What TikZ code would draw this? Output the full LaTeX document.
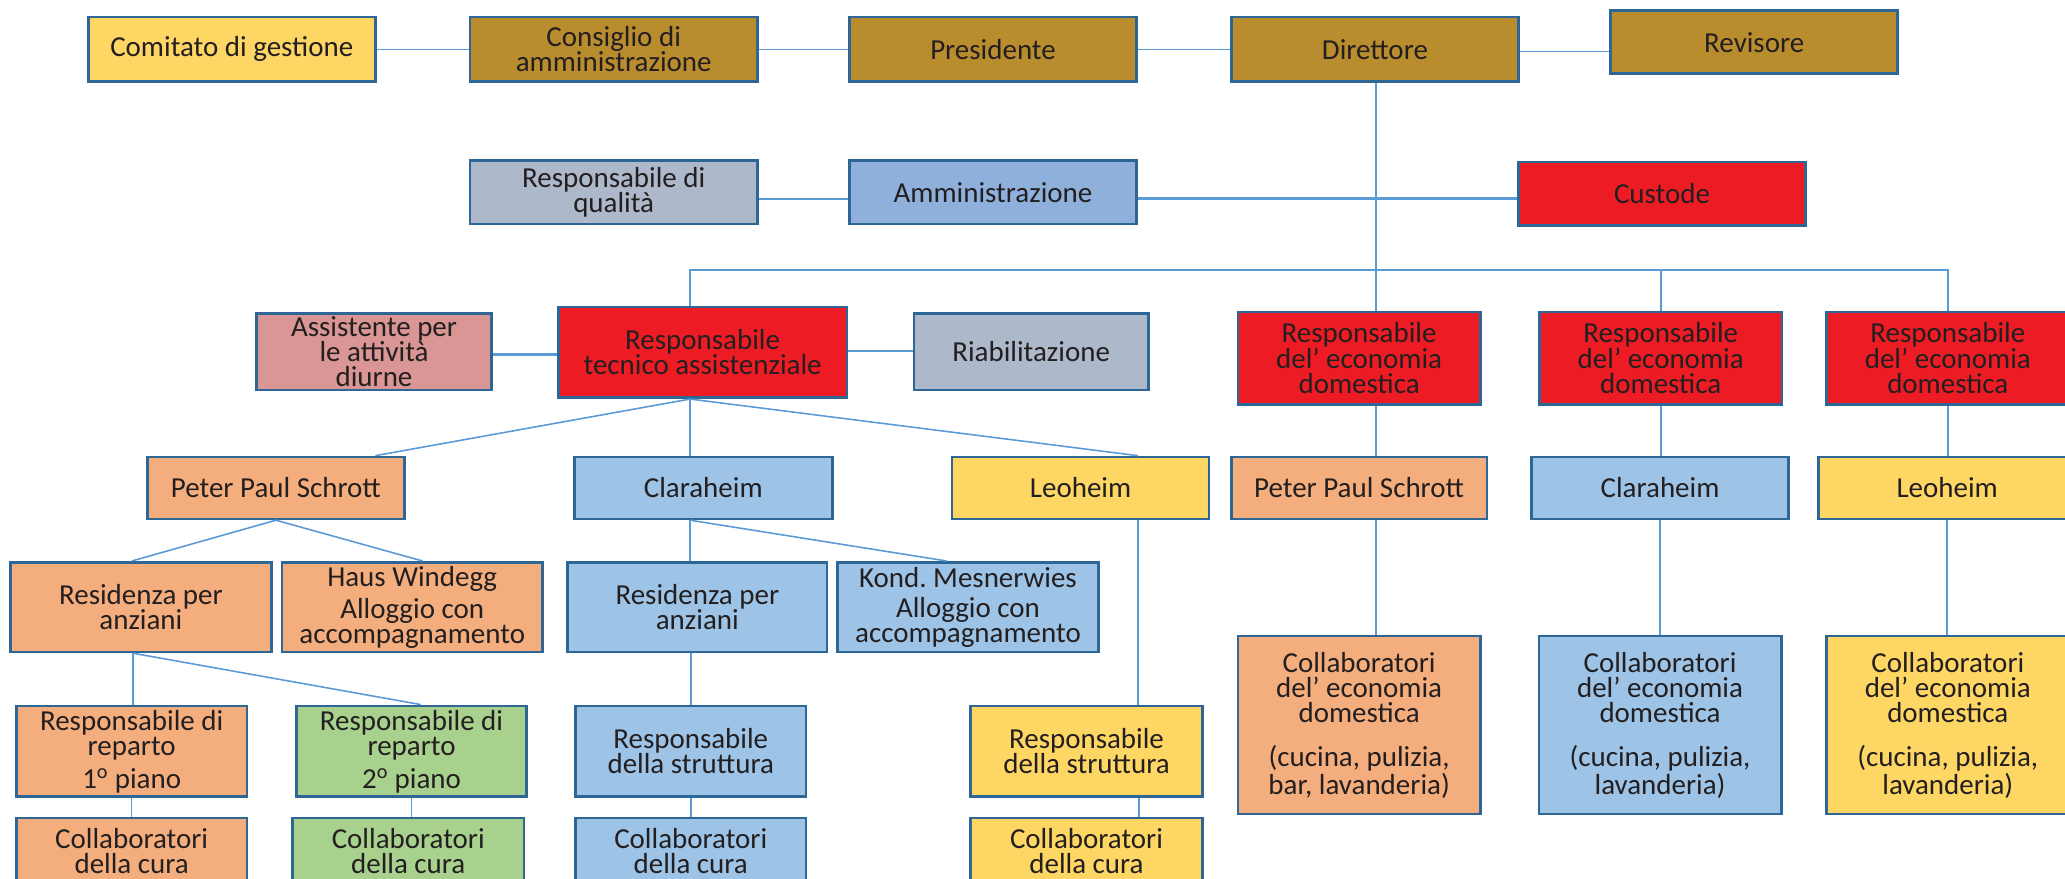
\documentclass[tikz,border=0pt]{standalone}
\usepackage{fontspec}
\setmainfont{Carlito}
\frenchspacing
\definecolor{gold}{HTML}{B98C2E}
\definecolor{yel}{HTML}{FDD663}
\definecolor{ora}{HTML}{F4AE7D}
\definecolor{lblue}{HTML}{9DC3E6}
\definecolor{ablue}{HTML}{8EB0DB}
\definecolor{grey}{HTML}{ADB8CA}
\definecolor{red}{HTML}{ED1C24}
\definecolor{pink}{HTML}{D99694}
\definecolor{green}{HTML}{A9D18E}
\definecolor{bordc}{HTML}{2E6796}
\definecolor{linec}{HTML}{5B9BD5}
\definecolor{txt}{HTML}{231F20}
\begin{document}
\begin{tikzpicture}[x=1pt,y=-1pt,
  box/.style={draw=bordc, line width=2pt, inner sep=0pt, align=center, text=txt,
    font=\fontsize{22}{19}\selectfont},
  sz/.style 2 args={minimum width=#1pt, minimum height=#2pt},
  conn/.style={draw=linec, line width=1.2pt},
  connthick/.style={draw=linec, line width=2.2pt}]
\useasboundingbox (0,0) rectangle (1568,667);

% Row 1
\node[box, fill=yel, sz={218}{49}] (com) at (176,37.5) {Comitato di gestione};
\node[box, fill=gold, sz={218}{49}] (cda) at (466,37.5) {Consiglio di\\amministrazione};
\node[box, fill=gold, sz={218}{49}] (pres) at (754,37.5) {Presidente};
\node[box, fill=gold, sz={218}{49}] (dir) at (1044,37.5) {Direttore};
\node[box, fill=gold, sz={218}{48}] (rev) at (1332,32) {Revisore};

% Row 2
\node[box, fill=grey, sz={218}{48}] (rq) at (466,146) {Responsabile di\\qualità};
\node[box, fill=ablue, sz={218}{48}] (amm) at (754,146) {Amministrazione};
\node[box, fill=red, sz={218}{48}] (cust) at (1262,147) {Custode};

% Row 3
\node[box, fill=pink, sz={178}{58}] (ass) at (284,267) {Assistente per\\le attività\\diurne};
\node[box, fill=red, sz={219}{69}] (rta) at (533.5,267.5) {Responsabile\\tecnico assistenziale};
\node[box, fill=grey, sz={178}{58}] (ria) at (783,267) {Riabilitazione};
\node[box, fill=red, sz={184}{70}] (red1) at (1032,272) {Responsabile\\del’ economia\\domestica};
\node[box, fill=red, sz={184}{70}] (red2) at (1261,272) {Responsabile\\del’ economia\\domestica};
\node[box, fill=red, sz={184}{70}] (red3) at (1479,272) {Responsabile\\del’ economia\\domestica};

% Row 4
\node[box, fill=ora, sz={195}{47}] (pps1) at (209.5,370.5) {Peter Paul Schrott};
\node[box, fill=lblue, sz={196}{47}] (cla1) at (534,370.5) {Claraheim};
\node[box, fill=yel, sz={195}{47}] (leo1) at (820.5,370.5) {Leoheim};
\node[box, fill=ora, sz={194}{47}] (pps2) at (1032,370.5) {Peter Paul Schrott};
\node[box, fill=lblue, sz={195}{47}] (cla2) at (1260.5,370.5) {Claraheim};
\node[box, fill=yel, sz={195}{47}] (leo2) at (1478.5,370.5) {Leoheim};

% Row 5
\node[box, fill=ora, sz={198}{68}] (res1) at (107,461) {Residenza per\\anziani};
\node[box, fill=ora, sz={198}{68}] (hw) at (313,461) {Haus Windegg\\[4pt]Alloggio con\\accompagnamento};
\node[box, fill=lblue, sz={197}{68}] (res2) at (529.5,461) {Residenza per\\anziani};
\node[box, fill=lblue, sz={198}{68}] (km) at (735,461) {Kond. Mesnerwies\\[4pt]Alloggio con\\accompagnamento};

% Row 6
\node[box, fill=ora, sz={175}{69}] (rr1) at (100,570.5) {Responsabile di\\reparto\\[6pt]1\textsuperscript{o} piano};
\node[box, fill=green, sz={175}{69}] (rr2) at (312.5,570.5) {Responsabile di\\reparto\\[6pt]2\textsuperscript{o} piano};
\node[box, fill=lblue, sz={175}{69}] (rs1) at (524.5,570.5) {Responsabile\\della struttura};
\node[box, fill=yel, sz={176}{69}] (rs2) at (825,570.5) {Responsabile\\della struttura};

% Row 7
\node[box, fill=ora, sz={175}{50}] (cc1) at (100,646) {Collaboratori\\della cura};
\node[box, fill=green, sz={176}{50}] (cc2) at (310,646) {Collaboratori\\della cura};
\node[box, fill=lblue, sz={175}{50}] (cc3) at (524.5,646) {Collaboratori\\della cura};
\node[box, fill=yel, sz={176}{50}] (cc4) at (825,646) {Collaboratori\\della cura};

% Right collaboratori
\node[box, fill=ora, sz={184}{135}] (ce1) at (1032,550.5) {Collaboratori\\del’ economia\\domestica\\[15pt](cucina, pulizia,\\bar, lavanderia)};
\node[box, fill=lblue, sz={184}{135}] (ce2) at (1260.5,550.5) {Collaboratori\\del’ economia\\domestica\\[15pt](cucina, pulizia,\\lavanderia)};
\node[box, fill=yel, sz={184}{135}] (ce3) at (1479,550.5) {Collaboratori\\del’ economia\\domestica\\[15pt](cucina, pulizia,\\lavanderia)};

\coordinate (busL) at (524,205);

% Connectors
\draw[conn] (com.east) -- (cda.west);
\draw[conn] (cda.east) -- (pres.west);
\draw[conn] (pres.east) -- (dir.west);
\draw[conn] ([yshift=-1.5pt]dir.east) -- ([yshift=-1.5pt]dir.east -| rev.west);
\draw[conn] ([yshift=-5pt]rq.east) -- ([yshift=-5pt]amm.west);
\draw[connthick] ([yshift=-5pt]amm.east) -- ([yshift=-4pt]cust.west);
\draw[conn] ([xshift=1pt]dir.south) -- ([xshift=1pt]dir.south |- red1.north);
\draw[conn] ([xshift=-9.5pt]rta.north) -- (busL) -- (busL -| red3.north) -- (red3.north);
\draw[conn] (red2.north) -- (red2.north |- busL);
\draw[connthick] ([yshift=-2pt]ass.east) -- ([yshift=-2pt]ass.east -| rta.west);
\draw[connthick] ([yshift=1pt]rta.east) -- ([yshift=1pt]rta.east -| ria.west);

\draw[conn] ([xshift=-9.5pt]rta.south) -- ([xshift=75.5pt]pps1.north);
\draw[conn] ([xshift=-9.5pt]rta.south) -- ([xshift=-9.5pt]rta.south |- cla1.north);
\draw[conn] ([xshift=-9.5pt]rta.south) -- ([xshift=43.5pt]leo1.north);

\draw[conn] ([xshift=13pt]red1.south) -- ([xshift=13pt]red1.south |- pps2.north);
\draw[conn] (red2.south) -- (red2.south |- cla2.north);
\draw[conn] (red3.south) -- (red3.south |- leo2.north);
\draw[conn] ([xshift=13pt]pps2.south) -- ([xshift=13pt]pps2.south |- ce1.north);
\draw[conn] (cla2.south) -- (cla2.south |- ce2.north);
\draw[conn] (leo2.south) -- (leo2.south |- ce3.north);

\draw[conn] (pps1.south) -- ([xshift=-7pt]res1.north);
\draw[conn] (pps1.south) -- ([xshift=8pt]hw.north);
\draw[conn] ([xshift=-10pt]cla1.south) -- ([xshift=-10pt]cla1.south |- res2.north);
\draw[conn] ([xshift=-10pt]cla1.south) -- ([xshift=-16pt]km.north);
\draw[conn] ([xshift=43.5pt]leo1.south) -- ([xshift=43.5pt]leo1.south |- rs2.north);

\draw[conn] ([xshift=-6pt]res1.south) -- ([xshift=-6pt]res1.south |- rr1.north);
\draw[conn] ([xshift=-6pt]res1.south) -- ([xshift=7pt]rr2.north);
\draw[conn] ([xshift=-5pt]res2.south) -- ([xshift=-5pt]res2.south |- rs1.north);

\draw[conn] (rr1.south) -- (rr1.south |- cc1.north);
\draw[conn] (rr2.south) -- (rr2.south |- cc2.north);
\draw[conn] (rs1.south) -- (rs1.south |- cc3.north);
\draw[conn] ([xshift=40pt]rs2.south) -- ([xshift=40pt]rs2.south |- cc4.north);
\end{tikzpicture}
\end{document}
